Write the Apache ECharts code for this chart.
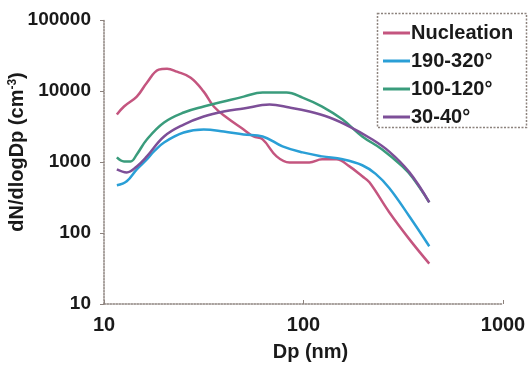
<!DOCTYPE html>
<html>
<head>
<meta charset="utf-8">
<script src="https://cdn.jsdelivr.net/npm/echarts@6/dist/echarts.min.js"></script>
<style>
html,body{margin:0;padding:0;background:#fff;}
#c{width:532px;height:367px;}
</style>
</head>
<body>
<div id="c"></div>
<script>
// Diameters (nm) and dN/dlogDp (cm^-3)
const nucX = [11.6, 12.6, 14.6, 16.4, 18.8, 20.7, 23.2, 27.2, 31.6, 35.5, 41.2, 50.1, 56.2, 62.4, 73.3, 85.1, 107, 124, 146, 170, 197, 214, 269, 339, 427];
const nucY = [4660, 6050, 8340, 13100, 20000, 20600, 18700, 15400, 9800, 6050, 4230, 2870, 2290, 2080, 1200, 986, 986, 1090, 1090, 867, 628, 517, 196, 82, 37];

const hotX = [11.6, 13.0, 14.6, 16.4, 17.8, 20.0, 25.1, 31.6, 39.8, 50.1, 62.4, 78.5, 98.9, 124, 157, 197, 230, 269, 339, 427];
const hotY = [469, 534, 787, 1088, 1410, 1885, 2600, 2870, 2690, 2440, 2290, 1660, 1365, 1200, 1090, 900, 680, 430, 172, 65];

const midX = [11.6, 12.6, 13.6, 14.6, 16.4, 20.0, 25.1, 31.6, 39.8, 50.1, 62.4, 82.2, 98.9, 124, 157, 197, 248, 313, 351, 427];
const midY = [1161, 1019, 1019, 1279, 2077, 3597, 4975, 6040, 7100, 8340, 9500, 9500, 8080, 6040, 3965, 2290, 1503, 867, 608, 271];

const lowX = [11.6, 13.0, 14.6, 16.4, 20.0, 25.1, 31.6, 39.8, 50.1, 67.6, 85.1, 107, 135, 170, 214, 269, 339, 427];
const lowY = [787, 714, 867, 1200, 2290, 3370, 4370, 5140, 5660, 6440, 5850, 5140, 4230, 3160, 2200, 1400, 720, 271];

const seriesNames = ['Nucleation', '190-320°', '100-120°', '30-40°'];
const colors = ['#c4557f', '#2a9fd6', '#3a9c7c', '#7d4f98'];
const xTicks = [10, 100, 1000];
const yTicks = [10, 100, 1000, 10000, 100000];

const pairs = (xs, ys) => xs.map((x, i) => [x, ys[i]]);
const allData = [pairs(nucX, nucY), pairs(hotX, hotY), pairs(midX, midY), pairs(lowX, lowY)];

const FONT = 'Liberation Sans, Arial, sans-serif';
const chart = echarts.init(document.getElementById('c'), null, {renderer: 'canvas'});
const axisCol = '#8c827d';

chart.setOption({
  animation: false,
  backgroundColor: '#fff',
  color: colors,
  grid: {left: 104, right: 29, top: 20, bottom: 62, containLabel: false},
  xAxis: {
    type: 'log', logBase: 10, min: xTicks[0], max: xTicks[xTicks.length - 1],
    name: 'Dp (nm)', nameLocation: 'middle', nameGap: 38,
    nameTextStyle: {fontFamily: FONT, fontWeight: 'bold', fontSize: 20, color: '#1a1a1a', padding: [0, 0, 0, 14]},
    axisLine: {show: true, lineStyle: {color: axisCol, type: 'dotted', width: 1.5}},
    axisTick: {show: true, inside: true, length: 4, lineStyle: {color: axisCol}},
    minorTick: {show: false},
    splitLine: {show: false},
    axisLabel: {fontFamily: FONT, fontWeight: 'bold', fontSize: 20, color: '#1a1a1a', margin: 11,
      formatter: v => String(Math.round(v))}
  },
  yAxis: {
    type: 'log', logBase: 10, min: yTicks[0], max: yTicks[yTicks.length - 1],
    axisLine: {show: true, lineStyle: {color: axisCol, type: 'dotted', width: 1.5}},
    axisTick: {show: true, inside: false, length: 4, lineStyle: {color: axisCol}},
    splitLine: {show: false},
    axisLabel: {fontFamily: FONT, fontWeight: 'bold', fontSize: 19, color: '#1a1a1a', margin: 13,
      formatter: v => String(Math.round(v))}
  },
  legend: {
    orient: 'vertical', left: 383, top: 23, itemGap: 8,
    itemWidth: 27, itemHeight: 3, icon: 'rect',
    padding: 0,
    data: seriesNames,
    textStyle: {fontFamily: FONT, fontWeight: 'bold', fontSize: 20, color: '#1a1a1a', lineHeight: 18, padding: [0, 0, 0, -4]}
  },
  graphic: [
    {type: 'rect', shape: {x: 377.5, y: 13.5, width: 149, height: 114},
     style: {fill: 'none', stroke: axisCol, lineWidth: 1.5, lineDash: [2, 1.5]}, z: 1},
    {type: 'text', x: 17, y: 152, rotation: Math.PI / 2,
     style: {text: 'dN/dlogDp (cm{s|-3})', fontFamily: FONT, fontWeight: 'bold', fontSize: 20, fill: '#1a1a1a',
       align: 'center', verticalAlign: 'middle',
       rich: {s: {fontFamily: FONT, fontWeight: 'bold', fontSize: 12, fill: '#1a1a1a', padding: [0, 0, 8, 0]}}}}
  ],
  series: seriesNames.map((n, i) => ({
    name: n, type: 'line', data: allData[i], showSymbol: false, symbol: 'none', smooth: 0.4,
    lineStyle: {width: 2.5, color: colors[i]}
  }))
});
</script>
</body>
</html>
